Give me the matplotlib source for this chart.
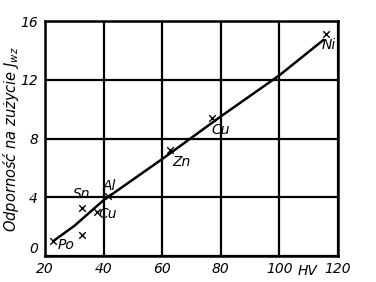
import matplotlib
matplotlib.use("Agg")
import matplotlib.pyplot as plt

# punkty pomiarowe (HV, Jwz)
hv = [22.7, 32.5, 32.5, 37.6, 41.4, 62.7, 76.9, 116.1]
jwz = [1.0, 1.45, 3.3, 3.0, 4.1, 7.2, 9.4, 15.1]
names = ["Po", "", "Sn", "Cu", "Al", "Zn", "Cu", "Ni"]
# przesuniecia srodkow etykiet w punktach
offs = [(9.4, -3), (0, 0), (0, 10), (8, -1.3), (1.5, 7), (8, -8.6), (6.7, -8.6), (1.6, -7.7)]

# krzywa trendu
line_x = [23.4, 30, 40, 50, 60, 70, 80, 90, 100, 115]
line_y = [1.1, 2.05, 3.8, 5.2, 6.6, 8.05, 9.5, 10.9, 12.3, 14.7]

xticks = [20, 40, 60, 80, 100, 120]
xlabels = ["20", "40", "60", "80", "100", "120"]
yticks = [0, 4, 8, 12, 16]

plt.rcParams["font.family"] = ["DejaVu Sans"]
plt.rcParams["font.style"] = "italic"
plt.rcParams["mathtext.fontset"] = "dejavusans"

fig = plt.figure(figsize=(3.76, 2.82), dpi=100)
ax = fig.add_axes([0.1197, 0.0922, 0.779, 0.8333])

ax.set_xlim(20, 120)
ax.set_ylim(0, 16)
ax.set_xticks(xticks)
ax.set_xticklabels(xlabels)
ax.set_yticks(yticks)
ax.tick_params(length=0, labelsize=10)
ax.tick_params(axis="x", pad=4)
ax.tick_params(axis="y", pad=5)
ax.get_yticklabels()[0].set_verticalalignment("bottom")
ax.grid(True, color="black", linewidth=1.6)
for s in ax.spines.values():
    s.set_linewidth(1.8)

ax.plot(line_x, line_y, color="black", linewidth=1.8)
ax.scatter(hv, jwz, marker="x", color="black", s=22, linewidths=1.0, zorder=3)
for x, y, n, o in zip(hv, jwz, names, offs):
    if n:
        ax.annotate(n, (x, y), xytext=o, textcoords="offset points",
                    fontsize=10, ha="center", va="center")

ax.text(109.8, -1.0, "HV", fontsize=10, ha="center", va="center")
fig.text(11 / 376, 1 - 139 / 282, "Odporność na zużycie $J_{wz}$",
         fontsize=10.5, rotation=90, ha="center", va="center")

fig.savefig("out.png", dpi=100)
